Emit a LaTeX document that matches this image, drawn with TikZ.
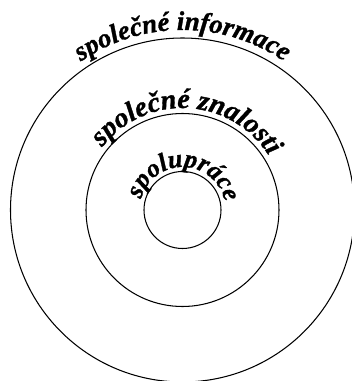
\documentclass[tikz,border=0pt]{standalone}
\usepackage{fontspec}
\setmainfont{Liberation Serif}
\newfontfamily\arcfont{Liberation Serif}[UprightFont=* Bold Italic, FakeBold=1.2]
\usetikzlibrary{decorations.text}
\begin{document}
\begin{tikzpicture}[x=0.03cm, y=0.03cm,
        ring/.style={draw, line width=0.9pt},
        arclabel/.style={decorate, decoration={text along path, text align=center, text={#1}}}
    ]
        \useasboundingbox (0,0) rectangle (351,381);
        \coordinate (c) at (182.5,171);

        % Circles
        \draw[ring] (c) circle[radius=172];
        \draw[ring] (c) circle[radius=96.5];
        \draw[ring] (c) circle[radius=38.5];

        % Labels on arcs
        \path[arclabel={|\arcfont\fontsize{23}{23}\selectfont|společné informace}]
            ([shift={(170:180)}]c) arc[start angle=170, end angle=10, radius=180];
        \path[arclabel={|\arcfont\fontsize{24}{24}\selectfont|společné znalosti}]
            ([shift={(167:102)}]c) arc[start angle=167, end angle=7, radius=102];
        \path[arclabel={|\arcfont\fontsize{22}{22}\selectfont|spolupráce}]
            ([shift={(178:43)}]c) arc[start angle=178, end angle=-2, radius=43];
    \end{tikzpicture}
\end{document}
